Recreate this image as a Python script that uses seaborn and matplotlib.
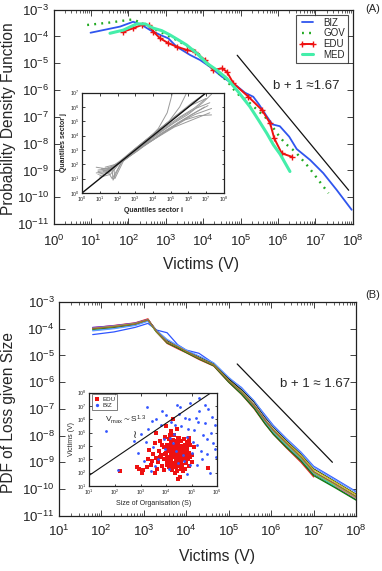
import numpy as np
import pandas as pd
import matplotlib
matplotlib.use("Agg")
import matplotlib.pyplot as plt
import seaborn as sns
from matplotlib.ticker import LogLocator, FuncFormatter, NullLocator

# ---------------- data (log10 values) ----------------
# Panel A : PDF of victims per sector
biz_lx = [0.99, 1.78, 2.13, 2.36, 2.58, 2.85, 3.07, 3.29, 3.65, 3.92, 4.18, 4.50, 4.63, 4.90,
          5.12, 5.34, 5.50, 5.70, 5.85, 6.05, 6.30, 6.50, 6.86, 7.21, 7.57, 7.97]
biz_ly = [-3.86, -3.63, -3.45, -3.57, -3.76, -3.94, -4.07, -4.38, -4.69, -4.88, -5.13, -5.50, -5.62, -5.85,
          -6.10, -6.25, -6.55, -6.98, -7.28, -7.35, -7.74, -8.20, -8.61, -9.10, -9.73, -10.47]
gov_lx = [0.90, 1.50, 2.13, 2.36, 2.76, 3.29, 3.83, 4.18, 4.41, 4.63, 4.90, 5.25, 5.74, 5.97,
          6.19, 6.46, 6.81, 7.35]
gov_ly = [-3.57, -3.48, -3.36, -3.51, -3.76, -4.13, -4.57, -5.13, -5.37, -5.65, -6.12, -6.49, -7.12, -7.61,
          -7.99, -8.30, -8.86, -9.85]
edu_lx = [1.87, 2.13, 2.36, 2.54, 2.67, 2.85, 3.07, 3.29, 3.56, 3.78, 4.05, 4.27, 4.50, 4.63,
          4.81, 5.21, 5.57, 5.79, 5.90, 6.10, 6.37]
edu_ly = [-3.82, -3.69, -3.57, -3.57, -3.82, -4.07, -4.25, -4.38, -4.50, -4.57, -4.88, -5.25, -5.19, -5.31,
          -5.75, -6.25, -6.74, -7.24, -7.80, -8.36, -8.49]
med_lx = [1.51, 1.87, 2.22, 2.45, 2.67, 2.89, 3.11, 3.34, 3.56, 3.83, 4.10, 4.36, 4.63, 4.90,
          5.25, 5.48, 5.70, 5.88, 6.06, 6.32]
med_ly = [-3.88, -3.76, -3.53, -3.53, -3.69, -3.78, -3.94, -4.13, -4.32, -4.63, -5.00, -5.25, -5.56, -6.00,
          -6.62, -7.12, -7.61, -8.05, -8.40, -9.04]
sectors = ["BIZ", "GOV", "EDU", "MED"]
powerlaw_a_lx = [4.91, 7.89]
powerlaw_a_ly = [-4.70, -9.74]

# Panel A inset : quantile-quantile curves between sectors
qq_lx = [
    [0.8, 1.3, 1.8, 2.3, 3.0, 3.8, 4.5, 5.2, 6.0, 6.8, 7.3],
    [0.9, 1.4, 2.0, 2.6, 3.3, 4.0, 4.8, 5.6, 6.4, 7.3],
    [1.0, 1.5, 2.0, 2.7, 3.5, 4.2, 5.0, 5.8, 6.6, 7.3],
    [1.2, 1.7, 1.75, 2.2, 2.9, 3.6, 4.3, 4.8, 5.1],
    [0.9, 1.6, 2.1, 2.8, 3.5, 4.2, 4.9, 5.5, 5.9],
    [1.1, 1.8, 1.85, 2.4, 3.1, 3.9, 4.7, 5.5, 6.3, 7.0],
    [0.8, 1.4, 2.0, 2.8, 3.6, 4.4, 5.2, 6.0, 6.8, 7.2],
    [1.0, 1.6, 2.2, 3.0, 3.8, 4.6, 5.4, 6.2, 7.0],
    [1.3, 1.9, 2.5, 3.2, 4.0, 4.8, 5.6, 6.4, 7.2],
    [1.5, 1.7, 2.3, 3.0, 3.7, 4.5, 5.3, 6.1, 6.9],
    [0.9, 1.5, 2.1, 2.9, 3.7, 4.5, 5.3, 6.1, 7.0],
    [1.2, 1.8, 2.4, 3.2, 4.0, 4.7, 5.4, 6.2, 7.1],
]
qq_ly = [
    [1.8, 1.7, 1.9, 2.3, 3.0, 3.7, 4.3, 4.9, 5.5, 6.3, 6.9],
    [1.5, 1.6, 2.0, 2.5, 3.1, 3.7, 4.4, 5.0, 5.5, 5.9],
    [1.2, 1.4, 2.0, 2.6, 3.3, 3.9, 4.5, 5.1, 5.4, 5.45],
    [1.6, 1.6, 0.9, 2.1, 2.8, 3.6, 4.5, 5.6, 7.0],
    [1.3, 1.5, 2.1, 2.9, 3.6, 4.3, 5.0, 6.0, 7.0],
    [1.7, 1.7, 1.0, 2.4, 3.0, 3.8, 4.6, 5.3, 5.9, 6.6],
    [1.4, 1.5, 2.0, 2.8, 3.4, 4.0, 4.6, 5.0, 5.4, 5.6],
    [1.1, 1.3, 2.2, 3.1, 3.9, 4.7, 5.5, 6.3, 7.0],
    [1.8, 2.0, 2.4, 3.0, 3.9, 4.6, 5.3, 5.9, 6.3],
    [1.4, 1.0, 2.3, 2.9, 3.5, 4.2, 4.8, 5.4, 6.0],
    [1.6, 1.7, 2.2, 3.0, 3.8, 4.6, 5.4, 6.1, 6.6],
    [1.5, 1.8, 2.3, 3.1, 3.7, 4.3, 4.9, 5.5, 6.1],
]
diag_lx = [0.0, 7.0]
diag_ly = [0.0, 7.0]

# Panel B : PDF of loss given size (one curve per organisation-size class)
size_lx = [1.8, 2.3, 2.8, 3.1, 3.3, 3.55, 3.8, 4.0, 4.3, 4.65, 5.0, 5.3, 5.6, 5.85, 6.05,
           6.35, 6.7, 7.0, 7.5, 8.0]
size_ly = [
    [-4.22, -4.12, -3.95, -3.80, -4.05, -4.15, -4.60, -4.80, -4.92, -5.30, -5.85, -6.20, -6.72, -7.22, -7.62, -8.10, -8.62, -9.15, -9.62, -10.10],
    [-3.97, -3.88, -3.78, -3.63, -4.12, -4.55, -4.75, -4.90, -5.15, -5.40, -6.00, -6.45, -7.00, -7.55, -7.95, -8.45, -9.00, -9.55, np.nan, np.nan],
    [-3.98, -3.90, -3.80, -3.66, -4.08, -4.48, -4.70, -4.83, -5.08, -5.34, -5.92, -6.40, -6.95, -7.50, -7.90, -8.38, -8.90, -9.45, -9.92, -10.40],
    [-3.99, -3.92, -3.81, -3.68, -4.06, -4.45, -4.66, -4.84, -5.05, -5.32, -5.88, -6.28, -6.75, -7.30, -7.68, -8.18, -8.70, -9.25, -9.72, -10.20],
    [-4.01, -3.94, -3.83, -3.69, -4.12, -4.52, -4.70, -4.88, -5.12, -5.38, -5.96, -6.35, -6.85, -7.40, -7.76, -8.22, -8.74, -9.28, -9.74, -10.22],
    [-3.96, -3.89, -3.80, -3.66, -4.09, -4.49, -4.69, -4.86, -5.11, -5.37, -5.97, -6.42, -6.93, -7.48, -7.88, -8.36, -8.88, -9.42, -9.88, -10.35],
    [-4.06, -3.98, -3.86, -3.70, -4.11, -4.51, -4.70, -4.87, -5.10, -5.35, -5.95, -6.40, -6.90, -7.46, -7.86, -8.34, -8.87, -9.40, -9.90, np.nan],
    [-3.95, -3.89, -3.79, -3.66, -4.10, -4.50, -4.68, -4.86, -5.10, -5.36, -5.94, -6.37, -6.86, -7.40, -7.80, -8.28, -8.82, -9.36, -9.83, -10.30],
    [-4.02, -3.95, -3.84, -3.68, -4.12, -4.53, -4.72, -4.89, -5.13, -5.39, -6.00, -6.45, -6.98, -7.55, -7.95, -8.43, -8.95, -9.50, -9.95, -10.42],
    [-4.08, -4.00, -3.88, -3.72, -4.06, -4.40, -4.62, -4.80, -5.02, -5.28, -5.82, -6.22, -6.70, -7.25, -7.65, -8.12, -8.64, -9.18, -9.66, -10.12],
    [-3.99, -3.91, -3.81, -3.67, -4.11, -4.49, -4.67, -4.85, -5.09, -5.35, -5.93, -6.36, -6.87, -7.42, -7.82, -8.30, -8.83, -9.38, -9.85, -10.32],
    [-4.00, -3.93, -3.82, -3.67, -4.10, -4.50, -4.68, -4.85, -5.10, -5.36, -5.95, -6.38, -6.88, -7.42, -7.80, -8.27, -8.80, -9.35, -9.80, -10.28],
]
size_colors = ["#2f55ff", "#ee2222", "#22aa22", "#111111", "#cccc22", "#dd33dd",
               "#22cccc", "#7744cc", "#117711", "#6699ff", "#99cc33", "#996633"]
powerlaw_b_lx = [5.20, 7.44]
powerlaw_b_ly = [-5.32, -9.00]

# Panel B inset : victims vs size of organisation
edu_sx = [2.2, 2.85, 2.95, 3.05, 3.11, 3.57, 3.3, 3.4, 3.5, 3.55, 3.6, 3.7, 3.72, 3.78, 3.8, 3.85,
          3.9, 3.92, 3.95, 4.0, 4.02, 4.05, 4.08, 4.1, 4.12, 4.15, 4.18, 4.2, 4.2, 4.22, 4.25, 4.28,
          4.3, 4.3, 4.32, 4.35, 4.35, 4.38, 4.4, 4.4, 4.42, 4.45, 4.45, 4.48, 4.5, 4.5, 4.52, 4.55,
          4.55, 4.58, 4.6, 4.6, 4.62, 4.65, 4.68, 4.7, 4.72, 4.75, 4.8, 4.85, 4.9, 5.0, 5.1, 5.65,
          4.0, 3.6, 4.25, 3.9, 4.45, 4.15,
          4.05, 4.12, 4.18, 4.22, 4.27, 4.33, 4.37, 4.43, 4.47, 4.53, 4.57, 4.63, 4.67, 4.73, 4.78,
          4.83, 4.88, 4.95, 4.1, 4.2, 4.3, 4.4, 4.5, 4.6, 4.7, 4.8, 4.15, 4.25, 4.35, 4.45, 4.55,
          4.65, 4.75, 4.05, 4.32, 4.42, 4.52, 4.62, 4.72, 3.95, 3.85, 3.75, 3.65, 4.58, 4.48, 4.38,
          4.28, 4.18, 4.08, 4.68, 4.78, 4.88, 3.45, 3.35, 3.25, 4.9, 5.02, 4.95, 4.43, 4.36]
edu_sy = [2.15, 2.45, 2.3, 2.0, 2.2, 1.95, 3.0, 2.6, 3.4, 4.2, 3.1, 2.8, 3.6, 4.4, 3.3, 2.5,
          3.9, 3.0, 4.7, 3.5, 2.8, 4.1, 3.2, 2.4, 4.5, 3.7, 3.0, 5.1, 3.4, 2.2, 4.0, 3.6,
          2.7, 4.8, 3.2, 3.9, 2.0, 4.3, 3.5, 2.9, 5.3, 3.8, 3.0, 4.2, 3.3, 2.5, 4.6, 3.6,
          1.7, 3.9, 3.1, 4.4, 2.6, 3.5, 4.0, 3.2, 2.3, 3.7, 4.3, 3.0, 3.5, 2.8, 3.9, 2.37,
          5.5, 5.0, 6.0, 2.2, 1.5, 2.6,
          3.1, 3.6, 4.2, 2.6, 3.3, 4.0, 2.4, 3.1, 4.6, 2.8, 3.4, 3.9, 2.1, 4.1, 2.7,
          3.8, 4.4, 3.2, 3.95, 2.9, 3.5, 4.1, 3.7, 2.9, 4.5, 3.3, 4.8, 2.4, 3.45, 2.7, 4.0,
          3.0, 3.05, 2.6, 3.75, 4.4, 3.0, 3.7, 3.55, 3.4, 4.1, 3.2, 2.3, 2.3, 3.95, 2.8,
          4.45, 3.25, 3.75, 3.0, 4.0, 2.5, 2.9, 3.7, 2.4, 4.6, 3.3, 4.1, 2.1, 3.4]
biz_sx = [1.65, 2.13, 3.24, 4.41, 4.93, 5.3, 3.0, 3.3, 3.5, 3.6, 3.8, 3.9, 4.0, 4.1, 4.2, 4.3,
          4.5, 4.6, 4.7, 4.8, 4.9, 5.0, 5.1, 5.2, 5.3, 5.4, 5.5, 5.6, 5.7, 5.8, 5.9, 3.4, 3.7,
          4.4, 4.8, 5.2, 5.5, 2.9, 3.2, 4.25,
          5.75, 5.85, 5.95, 5.65, 5.45, 5.35, 5.15, 5.05, 4.95, 4.85, 4.65, 4.55, 4.35, 4.15,
          3.85, 3.55, 3.15, 2.75, 5.9, 5.6, 5.25, 4.75, 4.45, 3.95, 3.45]
biz_sy = [5.14, 2.2, 6.94, 7.06, 7.19, 7.6, 4.9, 5.3, 3.9, 6.0, 5.6, 4.5, 6.3, 2.3, 5.8, 4.9,
          6.4, 5.5, 2.9, 4.7, 6.0, 3.5, 5.2, 4.1, 6.6, 3.0, 5.7, 4.5, 2.0, 6.2, 3.8, 2.1, 3.0,
          3.6, 1.9, 2.6, 7.1, 3.5, 4.3, 4.2,
          5.0, 4.2, 3.2, 6.8, 4.8, 3.6, 6.1, 4.3, 2.6, 5.3, 3.3, 6.9, 5.6, 4.6,
          6.6, 2.5, 2.9, 4.4, 5.6, 3.4, 5.8, 6.1, 2.7, 3.8, 5.9]
vmax_lx = [1.0, 6.0]
vmax_ly = [1.8, 8.3]

# ---------------- style ----------------
sns.set_style("ticks")
plt.rcParams['font.family'] = ['Liberation Sans', 'DejaVu Sans']
plt.rcParams['mathtext.fontset'] = 'custom'
plt.rcParams['mathtext.rm'] = 'Liberation Sans'
plt.rcParams['mathtext.it'] = 'Liberation Sans:italic'
plt.rcParams['mathtext.bf'] = 'Liberation Sans:bold'
plt.rcParams['axes.linewidth'] = 0.9
plt.rcParams['axes.edgecolor'] = '#222222'

def p10(a):
    return np.power(10.0, np.asarray(a, dtype=float))

sup_fmt = FuncFormatter(lambda v, p: r'$\mathregular{10^{%d}}$' % int(round(np.log10(v))))

def style_log(ax, xlim, ylim, labelsize, majlen, minlen, xminor=True, xpad=3, ypad=3):
    ax.set_xscale('log')
    ax.set_yscale('log')
    ax.set_xlim(*xlim)
    ax.set_ylim(*ylim)
    ax.xaxis.set_major_locator(LogLocator(base=10, numticks=30))
    ax.yaxis.set_major_locator(LogLocator(base=10, numticks=30))
    if xminor:
        ax.xaxis.set_minor_locator(LogLocator(base=10, subs=np.arange(2, 10), numticks=30))
    else:
        ax.xaxis.set_minor_locator(NullLocator())
    ax.yaxis.set_minor_locator(NullLocator())
    ax.xaxis.set_major_formatter(sup_fmt)
    ax.yaxis.set_major_formatter(sup_fmt)
    ax.tick_params(which='both', direction='in', top=True, right=True,
                   labelsize=labelsize, colors='#222222')
    ax.tick_params(axis='x', which='major', pad=xpad)
    ax.tick_params(axis='y', which='major', pad=ypad)
    ax.tick_params(which='major', length=majlen, width=0.6)
    ax.tick_params(which='minor', length=minlen, width=0.5)

fig = plt.figure(figsize=(3.82, 5.71), dpi=100)

# ---------------- Panel A ----------------
axA = fig.add_axes([53.5/382, 1-224/571, (352.8-53.5)/382, (224-9.7)/571])
style_log(axA, (1e0, 1e8), (1e-11, 1e-3), 9.5, 4, 2, xpad=7, ypad=3)

sns.lineplot(x=p10(biz_lx), y=p10(biz_ly), ax=axA, color="#2f55ee", lw=1.3,
             sort=False, estimator=None, label=sectors[0], legend=False)
sns.lineplot(x=p10(gov_lx), y=p10(gov_ly), ax=axA, color="#22aa22", lw=1.7,
             linestyle=(0, (0.8, 2.2)), sort=False, estimator=None, label=sectors[1], legend=False)
sns.lineplot(x=p10(edu_lx), y=p10(edu_ly), ax=axA, color="#ee1111", lw=1.4, marker='+',
             markersize=4.5, markeredgewidth=1.0, markeredgecolor="#ee1111",
             sort=False, estimator=None, label=sectors[2], legend=False)
sns.lineplot(x=p10(med_lx), y=p10(med_ly), ax=axA, color="#44eeaa", lw=2.2,
             sort=False, estimator=None, label=sectors[3], legend=False)
sns.lineplot(x=p10(powerlaw_a_lx), y=p10(powerlaw_a_ly), ax=axA, color="#111111", lw=0.9,
             sort=False, estimator=None, legend=False)
axA.text(p10(5.87), p10(-5.85), "b + 1 \u22481.67", fontsize=9.5, ha='left', va='center')
handles, labels = axA.get_legend_handles_labels()
leg = axA.legend(handles[:4], labels[:4], loc='upper right', bbox_to_anchor=(0.985, 0.977),
                 borderaxespad=0, fontsize=7, frameon=True, fancybox=False,
                 edgecolor='#222222', handlelength=1.7, borderpad=0.3, labelspacing=0.08,
                 handletextpad=0.8, numpoints=2, borderaxespad_=None) if False else \
      axA.legend(handles[:4], labels[:4], loc='upper right', bbox_to_anchor=(0.985, 0.977),
                 borderaxespad=0, fontsize=7, frameon=True, fancybox=False,
                 edgecolor='#222222', handlelength=1.7, borderpad=0.3, labelspacing=0.08,
                 handletextpad=0.8, numpoints=2)
leg.get_frame().set_linewidth(0.8)

# inset A
axAi = fig.add_axes([82/382, 1-193/571, (224-82)/382, (193-92.7)/571])
style_log(axAi, (1e0, 1e8), (1e0, 1e7), 3.8, 1.8, 1.0, xminor=False, xpad=1.5, ypad=1.5)
for lx, ly in zip(qq_lx, qq_ly):
    sns.lineplot(x=p10(lx), y=p10(ly), ax=axAi, color="#9a9a9a", lw=0.7,
                 sort=False, estimator=None, legend=False)
sns.lineplot(x=p10(diag_lx), y=p10(diag_ly), ax=axAi, color="#111111", lw=1.0,
             sort=False, estimator=None, legend=False)
axAi.set_xlabel("Quantiles sector i", fontsize=5, labelpad=2, fontweight='bold')
axAi.set_ylabel("Quantiles sector j", fontsize=5, labelpad=2, fontweight='bold')

fig.text(8.5/382, 1-119/571, "Probability Density Function", rotation=90,
         ha='center', va='center', fontsize=11.2)
fig.text(201/382, 1-264/571, "Victims (V)", ha='center', va='center', fontsize=11.3)
fig.text(365/382, 1-8.5/571, "(A)", ha='left', va='center', fontsize=8)

# ---------------- Panel B ----------------
axB = fig.add_axes([58.7/382, 1-515.7/571, (356.2-58.7)/382, (515.7-302)/571])
style_log(axB, (1e1, 1e8), (1e-11, 1e-3), 9.5, 4, 2, xpad=6, ypad=3)

rows = []
for i, ly in enumerate(size_ly):
    for x, y in zip(size_lx, ly):
        if not np.isnan(y):
            rows.append({"V": 10.0 ** x, "P": 10.0 ** y, "cls": f"s{i}"})
dfB = pd.DataFrame(rows)
sns.lineplot(data=dfB, x="V", y="P", hue="cls", palette=size_colors, ax=axB, lw=0.9,
             sort=False, estimator=None, legend=False)
sns.lineplot(x=p10(powerlaw_b_lx), y=p10(powerlaw_b_ly), ax=axB, color="#111111", lw=0.9,
             sort=False, estimator=None, legend=False)
axB.set_xlabel("")
axB.set_ylabel("")
axB.text(p10(6.21), p10(-6.08), "b + 1 \u2248 1.67", fontsize=9.5, ha='left', va='center')

# inset B
axBi = fig.add_axes([89.3/382, 1-486/571, 128/382, 93.5/571])
style_log(axBi, (1e1, 1e6), (1e1, 1e8), 3.8, 1.8, 1.0, xminor=False, xpad=1.5, ypad=1.5)
sns.scatterplot(x=p10(edu_sx), y=p10(edu_sy), ax=axBi, color="#ee1111", marker='s', s=6,
                linewidth=0, label="EDU", legend=False)
sns.scatterplot(x=p10(biz_sx), y=p10(biz_sy), ax=axBi, color="#3355ff", marker='o', s=4,
                linewidth=0, label="BIZ", legend=False)
sns.lineplot(x=p10(vmax_lx), y=p10(vmax_ly), ax=axBi, color="#111111", lw=0.8,
             sort=False, estimator=None, legend=False)
axBi.set_xlabel("Size of Organisation (S)", fontsize=5, labelpad=2)
axBi.set_ylabel("Victims (V)", fontsize=5, labelpad=2)
hb, lb = axBi.get_legend_handles_labels()
legb = axBi.legend(hb[:2], lb[:2], loc='upper left', bbox_to_anchor=(0.02, 0.98), borderaxespad=0,
                   fontsize=4.5, frameon=True, fancybox=False, edgecolor='#444444',
                   handlelength=1.0, borderpad=0.3, labelspacing=0.15, handletextpad=0.4,
                   markerscale=1.2)
legb.get_frame().set_linewidth(0.6)
axBi.text(p10(1.61), p10(5.94), r'$\mathregular{V_{max} \sim S^{1.3}}$', fontsize=6,
          ha='left', va='center')
axBi.text(p10(2.78), p10(4.8), "\u2240", fontsize=8, ha='center', va='center',
          family=['DejaVu Sans'])

fig.text(8.5/382, 1-412.5/571, "PDF of Loss given Size", rotation=90,
         ha='center', va='center', fontsize=11.2)
fig.text(216.7/382, 1-556.7/571, "Victims (V)", ha='center', va='center', fontsize=11.3)
fig.text(365/382, 1-295/571, "(B)", ha='left', va='center', fontsize=8)

fig.savefig("out.png", dpi=100)
